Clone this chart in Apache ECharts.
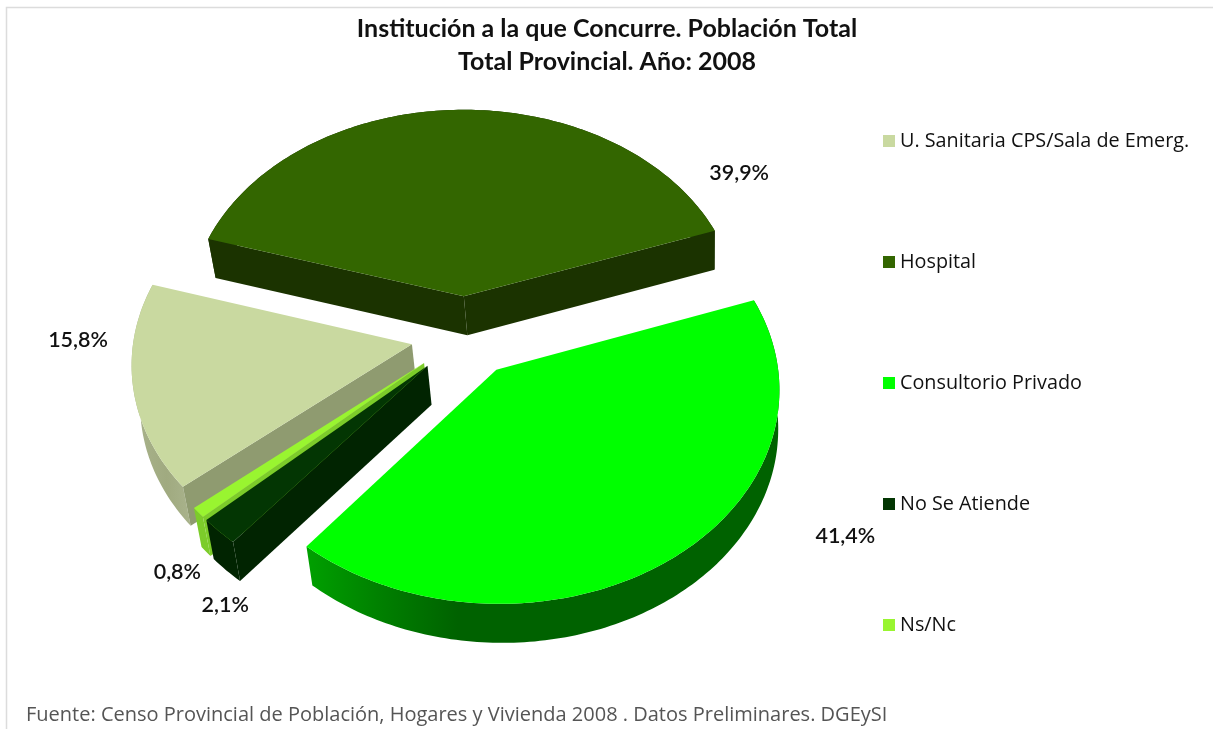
<!DOCTYPE html>
<html>
<head>
<meta charset="utf-8">
<title>Institución a la que Concurre</title>
<style>
html, body { margin: 0; padding: 0; background: #fff; }
#main { width: 1213px; height: 729px; }
</style>
<script src="https://cdn.jsdelivr.net/npm/echarts@6/dist/echarts.min.js"></script>
</head>
<body>
<div id="main"></div>
<script>
var categories = ['U. Sanitaria CPS/Sala de Emerg.', 'Hospital', 'Consultorio Privado', 'No Se Atiende', 'Ns/Nc'];
var values = [15.8, 39.9, 41.4, 2.1, 0.8];
var valueLabels = ['15,8%', '39,9%', '41,4%', '2,1%', '0,8%'];

// colores: cara superior, pared radial, pared exterior
var topColors = ['#c9d9a0', '#336600', '#00ff00', '#033603', '#99f530'];
var wallColors = ['#8f9b70', '#1b3300', '#009900', '#012401', '#7ccc2a'];
var rimColors = [
    {type: 'linear', x: 0, y: 0, x2: 1, y2: 0, colorStops: [{offset: 0, color: '#a9b38c'}, {offset: 0.6, color: '#a0aa80'}, {offset: 1, color: '#a9b38c'}]},
    '#1b3300',
    {type: 'linear', x: 0, y: 0, x2: 1, y2: 0, colorStops: [{offset: 0, color: '#00a000'}, {offset: 0.16, color: '#007f00'}, {offset: 0.32, color: '#006200'}, {offset: 1, color: '#006200'}]},
    '#012401',
    '#7ccc2a'
];
// orden de pintado, desde atras hacia adelante
var drawOrder = [2, 1, 5, 4, 3];
// desplazamiento de cada etiqueta respecto del borde de su porcion
var labelShift = [[-55, -47], [281, 63], [173, -22], [6, 74], [-21, 60]];

var START_ANGLE = 230;
var CX = 465, CY = 336;
var RADIUS = 278, EXPLODE = 54;
var TILT = 0.75, DEPTH = 3300, HEIGHT = 39;
var VANISH_X = 700, VANISH_K = 0.015;

// plano del disco -> pantalla, z=0 cara superior, z=1 base
function project(X, Y, z) {
    var f = DEPTH / (DEPTH - Y);
    var x = CX + X * f;
    var y = CY + Y * TILT * f + z * HEIGHT;
    x += (VANISH_X - x) * VANISH_K * z;
    return [x, y];
}

function getAngles(idx) {
    var before = 0;
    for (var i = 0; i < idx; i++) before += values[i];
    var a0 = START_ANGLE + before * 3.6;
    return [a0, a0 + values[idx] * 3.6];
}

function rad(a) { return a * Math.PI / 180; }

function arcPoints(ox, oy, a0, a1, z) {
    var pts = [];
    var n = Math.max(2, Math.ceil(a1 - a0));
    for (var i = 0; i <= n; i++) {
        var a = rad(a0 + (a1 - a0) * i / n);
        pts.push(project(ox + RADIUS * Math.sin(a), oy - RADIUS * Math.cos(a), z));
    }
    return pts;
}

function poly(points, fill) {
    return {type: 'polygon', shape: {points: points}, style: {fill: fill, stroke: null}};
}

function renderSlice(params, api) {
    var idx = params.seriesIndex;
    var ang = getAngles(idx);
    var a0 = ang[0], a1 = ang[1], mid = rad((a0 + a1) / 2);
    var ox = EXPLODE * Math.sin(mid), oy = -EXPLODE * Math.cos(mid);
    var children = [];

    var rimTop = arcPoints(ox, oy, a0, a1, 0);
    var rimBottom = arcPoints(ox, oy, a0, a1, 1);
    children.push(poly(rimTop.concat(rimBottom.slice().reverse()), rimColors[idx]));

    var apexTop = project(ox, oy, 0), apexBottom = project(ox, oy, 1);
    if (Math.sin(rad(a0)) < 0) {
        children.push(poly([apexTop, rimTop[0], rimBottom[0], apexBottom], wallColors[idx]));
    }
    if (Math.sin(rad(a1)) > 0) {
        var last = rimTop.length - 1;
        children.push(poly([apexTop, rimTop[last], rimBottom[last], apexBottom], wallColors[idx]));
    }
    children.push(poly([apexTop].concat(rimTop), topColors[idx]));

    var anchor = project(ox + RADIUS * Math.sin(mid), oy - RADIUS * Math.cos(mid), 0);
    children.push({
        type: 'text',
        x: anchor[0] + labelShift[idx][0],
        y: anchor[1] + labelShift[idx][1],
        style: {
            text: valueLabels[idx],
            fill: '#111',
            font: '600 21.5px Lato',
            align: 'center',
            verticalAlign: 'middle'
        }
    });
    return {type: 'group', children: children};
}

var series = categories.map(function (name, i) {
    return {
        name: name,
        type: 'custom',
        coordinateSystem: 'none',
        renderItem: renderSlice,
        z: drawOrder[i],
        silent: true,
        itemStyle: {color: topColors[i]},
        data: [[values[i]]]
    };
});

var chart = echarts.init(document.getElementById('main'));
chart.setOption({
    animation: false,
    backgroundColor: '#ffffff',
    title: {
        text: 'Institución a la que Concurre. Población Total\nTotal Provincial. Año: 2008',
        left: 602,
        top: 7,
        textAlign: 'center',
        textStyle: {fontFamily: 'Lato', fontSize: 25, fontWeight: 'bold', color: '#111', lineHeight: 33}
    },
    legend: {
        orient: 'vertical',
        left: 878,
        top: 126,
        itemWidth: 12,
        itemHeight: 12,
        itemGap: 101,
        icon: 'rect',
        selectedMode: false,
        textStyle: {fontFamily: 'Open Sans', fontSize: 19.8, fontWeight: 500, color: '#111', lineHeight: 20},
        data: categories
    },
    graphic: [
        {type: 'polyline', silent: true, shape: {points: [[6.5, 729], [6.5, 7.5], [1213, 7.5]]}, style: {stroke: '#dcdcdc', lineWidth: 1.5, fill: null}},
        {type: 'text', left: 26, top: 705, silent: true, style: {text: 'Fuente: Censo Provincial de Población, Hogares y Vivienda 2008 . Datos Preliminares. DGEySI', fill: '#555', font: '20px "Open Sans"'}}
    ],
    series: series
});
</script>
</body>
</html>
